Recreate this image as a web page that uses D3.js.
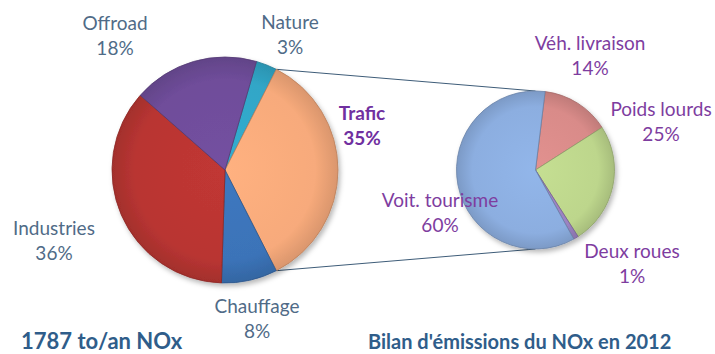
<!DOCTYPE html>
<html>
<head>
<meta charset="utf-8">
<script src="https://cdn.jsdelivr.net/npm/d3@7"></script>
<style>
  html, body { margin: 0; padding: 0; background: #ffffff; }
  svg { display: block; }
  text { font-family: Lato, "Open Sans", sans-serif; }
</style>
</head>
<body>
<svg id="chart" width="715" height="354"></svg>
<script>
// NOx emission sources, whole inventory (percent)
const mainLabels = ["Nature", "Trafic", "Chauffage", "Industries", "Offroad"];
const mainValues = [3, 35, 8, 36, 18];
const mainColors = ["#31a6c7", "#f7aa7b", "#3b73b8", "#b93532", "#6f4d9a"];

// Breakdown of the "Trafic" share (percent)
const subLabels = ["Véh. livraison", "Poids lourds", "Deux roues", "Voit. tourisme"];
const subValues = [14, 25, 1, 60];
const subColors = ["#d98b89", "#bdd68c", "#9b82c2", "#8caee0"];

const totalTitle = "1787 to/an NOx";
const mainTitle = "Bilan d'émissions du NOx en 2012";

// label anchors: centre x, baseline of the first line
const mainLabelPos = {
  "Nature": [290, 29], "Trafic": [362, 120], "Chauffage": [257, 313],
  "Industries": [54, 235], "Offroad": [115, 30]
};
const subLabelPos = {
  "Véh. livraison": [590, 50], "Poids lourds": [661, 116],
  "Deux roues": [632, 258], "Voit. tourisme": [440, 207]
};

const svg = d3.select("#chart");
const defs = svg.append("defs");

const shadow = defs.append("filter").attr("id", "shadow")
  .attr("x", "-20%").attr("y", "-20%").attr("width", "140%").attr("height", "140%");
shadow.append("feDropShadow").attr("dx", 2).attr("dy", 3)
  .attr("stdDeviation", 2.5).attr("flood-color", "#000").attr("flood-opacity", 0.28);

const main = { cx: 225, cy: 170, r: 113 };
const sub = { cx: 535.5, cy: 170, r: 79 };

// soft radial shading: a touch lighter at the hub, darker towards the rim
function gradient(id, color, r) {
  const g = defs.append("radialGradient").attr("id", id)
    .attr("gradientUnits", "userSpaceOnUse")
    .attr("cx", 0).attr("cy", 0).attr("r", r);
  const base = d3.color(color);
  g.append("stop").attr("offset", "0%").attr("stop-color", base.brighter(0.12));
  g.append("stop").attr("offset", "80%").attr("stop-color", base);
  g.append("stop").attr("offset", "100%").attr("stop-color", base.darker(0.35));
  return `url(#${id})`;
}

// the "Trafic" slice is centred on the right-hand side, pointing at the breakdown pie
const trafIdx = mainLabels.indexOf("Trafic");
const totalMain = d3.sum(mainValues);
const before = d3.sum(mainValues.slice(0, trafIdx));
const startMain = Math.PI / 2 - (before + mainValues[trafIdx] / 2) / totalMain * 2 * Math.PI;

const pieMain = d3.pie().sort(null).value(d => d)
  .startAngle(startMain).endAngle(startMain + 2 * Math.PI);
const arcsMain = pieMain(mainValues);

const startSub = 7 * Math.PI / 180;
const pieSub = d3.pie().sort(null).value(d => d)
  .startAngle(startSub).endAngle(startSub + 2 * Math.PI);
const arcsSub = pieSub(subValues);

// connector lines from the edges of the Trafic slice to the breakdown pie
const ta = arcsMain[trafIdx];
const pt = (c, a, r) => [c.cx + r * Math.sin(a), c.cy - r * Math.cos(a)];
const p1 = pt(main, ta.startAngle, main.r);
const p2 = pt(main, ta.endAngle, main.r);
const q1 = pt(sub, 0, sub.r);
const q2 = pt(sub, Math.PI, sub.r);
svg.append("g").selectAll("line").data([[p1, q1], [p2, q2]]).join("line")
  .attr("x1", d => d[0][0]).attr("y1", d => d[0][1])
  .attr("x2", d => d[1][0]).attr("y2", d => d[1][1])
  .attr("stroke", "#3e5c78").attr("stroke-width", 1);

function drawPie(c, arcs, colors, prefix) {
  const arc = d3.arc().innerRadius(0).outerRadius(c.r);
  svg.append("g").attr("filter", "url(#shadow)")
    .attr("transform", `translate(${c.cx},${c.cy})`)
    .selectAll("path").data(arcs).join("path")
    .attr("d", arc)
    .attr("fill", (d, i) => gradient(`${prefix}${i}`, colors[i], c.r))
    .attr("stroke", (d, i) => d3.color(colors[i]).darker(0.8))
    .attr("stroke-width", 0.8)
    .attr("stroke-linejoin", "round");
}
drawPie(main, arcsMain, mainColors, "gm");
drawPie(sub, arcsSub, subColors, "gs");

function labels(names, values, pos, style) {
  const g = svg.append("g");
  names.forEach((name, i) => {
    const [x, y] = pos[name];
    const s = style(name);
    const t = g.append("text").attr("text-anchor", "middle")
      .attr("font-size", 19).attr("fill", s.color).attr("font-weight", s.weight);
    t.append("tspan").attr("x", x).attr("y", y).text(name);
    t.append("tspan").attr("x", x).attr("y", y + 25).text(values[i] + "%");
  });
}
labels(mainLabels, mainValues, mainLabelPos, name => name === "Trafic"
  ? { color: "#7030a0", weight: 700 } : { color: "#506b87", weight: 400 });
labels(subLabels, subValues, subLabelPos, () => ({ color: "#7e3d9f", weight: 400 }));

svg.append("text").attr("x", 21).attr("y", 349)
  .attr("font-size", 22).attr("font-weight", 700).attr("fill", "#2f5d8a")
  .text(totalTitle);
svg.append("text").attr("x", 368).attr("y", 349)
  .attr("font-size", 20).attr("font-weight", 700).attr("fill", "#2f5d8a")
  .text(mainTitle);
</script>
</body>
</html>
